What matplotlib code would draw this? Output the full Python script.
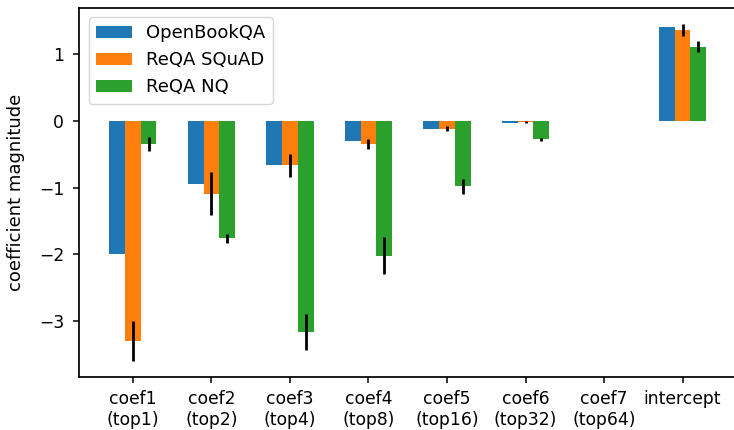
import matplotlib
matplotlib.use("Agg")
import matplotlib.pyplot as plt
import numpy as np

categories = ["coef1\n(top1)", "coef2\n(top2)", "coef3\n(top4)", "coef4\n(top8)",
              "coef5\n(top16)", "coef6\n(top32)", "coef7\n(top64)", "intercept"]
series_names = ["OpenBookQA", "ReQA SQuAD", "ReQA NQ"]

openbook = [-2.00, -0.95, -0.67, -0.30, -0.12, -0.04, 0.0, 1.40]
squad = [-3.30, -1.09, -0.67, -0.35, -0.12, -0.02, 0.0, 1.36]
nq = [-0.35, -1.76, -3.16, -2.02, -0.98, -0.28, 0.0, 1.11]

openbook_err = [0, 0, 0, 0, 0, 0, 0, 0]
squad_err = [0.30, 0.32, 0.17, 0.07, 0.04, 0.01, 0, 0.09]
nq_err = [0.10, 0.07, 0.27, 0.28, 0.11, 0.02, 0, 0.08]

values = [openbook, squad, nq]
errors = [openbook_err, squad_err, nq_err]
colors = ["#1f77b4", "#ff7f0e", "#2ca02c"]

# the original looks like it was rendered a bit larger and scaled down
plt.rcParams["font.size"] = 12.5
plt.rcParams["axes.linewidth"] = 1.25
plt.rcParams["xtick.major.width"] = 1.1
plt.rcParams["ytick.major.width"] = 1.1
plt.rcParams["xtick.major.size"] = 4.5
plt.rcParams["ytick.major.size"] = 4.5
plt.rcParams["xtick.major.pad"] = 5
plt.rcParams["ytick.major.pad"] = 6.5

fig = plt.figure(figsize=(7.34, 4.30), dpi=100)
ax = fig.add_axes([0.1083, 0.1233, 0.8944, 0.858])

x = np.arange(len(categories))
width = 0.2
for i, (vals, errs, name) in enumerate(zip(values, errors, series_names)):
    ax.bar(x + (i - 1) * width, vals, width, yerr=errs, color=colors[i],
           label=name, ecolor="black", error_kw={"elinewidth": 2.0})

ax.set_xticks(x)
ax.set_xticklabels(categories, fontsize=12.3)
ax.set_xlim(-0.68, 7.68)
ax.set_ylim(-3.84, 1.69)
ax.set_yticks([-3, -2, -1, 0, 1])
ax.tick_params(axis="y", labelsize=12.3)
ax.set_ylabel("coefficient magnitude", fontsize=13)
ax.yaxis.set_label_coords(-0.083, 0.5)
ax.legend(loc="upper left", fontsize=13)

fig.savefig("out.png", dpi=100)
